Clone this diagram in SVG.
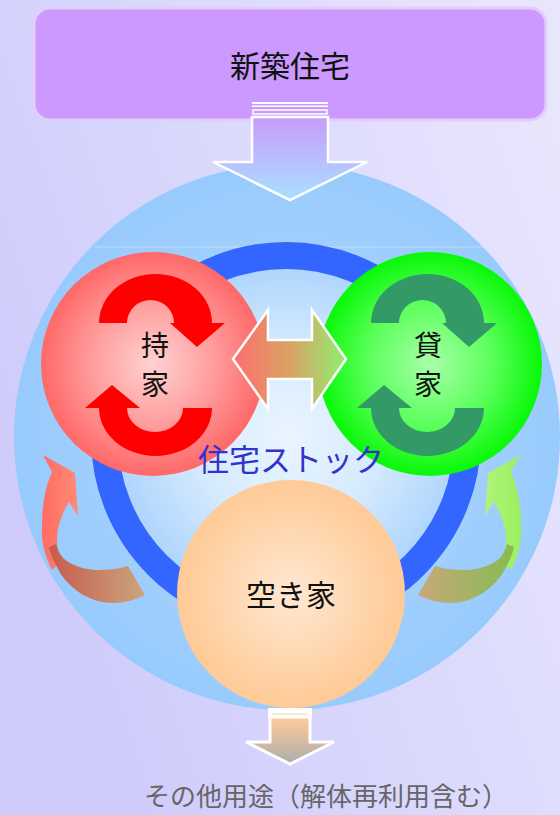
<svg xmlns="http://www.w3.org/2000/svg" width="560" height="815" viewBox="0 0 560 815">
<defs>
<style>
.t{font-family:"Noto Sans CJK JP","Noto Sans",sans-serif;}
.blk{fill:#111;}
.wl{fill:#fff;}
</style>
<linearGradient id="bg" x1="0" y1="0.7" x2="1" y2="0.2">
<stop offset="0" stop-color="#cdcafc"/><stop offset="1" stop-color="#e8e6fd"/>
</linearGradient>
<radialGradient id="bigG" gradientUnits="userSpaceOnUse" cx="288" cy="437" r="273">
<stop offset="0" stop-color="#eaf5ff"/><stop offset="0.32" stop-color="#d6ebfe"/><stop offset="0.6" stop-color="#b2d7fd"/><stop offset="0.74" stop-color="#9fcefd"/><stop offset="1" stop-color="#98cbfd"/>
</radialGradient>
<radialGradient id="redG" cx="0.5" cy="0.5" r="0.5">
<stop offset="0" stop-color="#ffd2d2"/><stop offset="0.55" stop-color="#ff9c9c"/><stop offset="1" stop-color="#ff6868"/>
</radialGradient>
<radialGradient id="grnG" cx="0.5" cy="0.5" r="0.5">
<stop offset="0" stop-color="#a8ffa8"/><stop offset="0.55" stop-color="#5cff5c"/><stop offset="1" stop-color="#08f808"/>
</radialGradient>
<radialGradient id="orgG" cx="0.5" cy="0.5" r="0.5">
<stop offset="0" stop-color="#ffe8d2"/><stop offset="0.6" stop-color="#ffd6ae"/><stop offset="1" stop-color="#ffca96"/>
</radialGradient>
<linearGradient id="dblG" x1="0" y1="0" x2="1" y2="0">
<stop offset="0" stop-color="#ff6e6e"/><stop offset="0.5" stop-color="#d9a264"/><stop offset="1" stop-color="#8ef070"/>
</linearGradient>
<linearGradient id="topArG" x1="0" y1="0" x2="0" y2="1">
<stop offset="0" stop-color="#c89cfc"/><stop offset="1" stop-color="#a8e0ff"/>
</linearGradient>
<linearGradient id="botArG" x1="0" y1="0" x2="0" y2="1">
<stop offset="0" stop-color="#ffcc99"/><stop offset="1" stop-color="#acacac"/>
</linearGradient>
<linearGradient id="lUp" x1="0" y1="0" x2="1" y2="0">
<stop offset="0" stop-color="#ff6c64"/><stop offset="1" stop-color="#ff8a78"/>
</linearGradient>
<linearGradient id="lLow" x1="0" y1="0" x2="1" y2="0">
<stop offset="0" stop-color="#c65c4e"/><stop offset="1" stop-color="#caa67c"/>
</linearGradient>
<linearGradient id="rUp" x1="0" y1="0" x2="1" y2="0">
<stop offset="0" stop-color="#9cee60"/><stop offset="1" stop-color="#b0f47a"/>
</linearGradient>
<linearGradient id="rLow" x1="0" y1="0" x2="1" y2="0">
<stop offset="0" stop-color="#86bc52"/><stop offset="1" stop-color="#c8a87a"/>
</linearGradient>
<path id="cycTop" d="M99 323 A56.5 49 0 0 1 212 323 L225 323 L197 347 L170 323 L174 323 A23.5 23 0 0 0 127 323 Z"/>
<path id="cycBot" d="M212 408 A56.5 48 0 0 1 99 408 L85 408 L112 385 L140 408 L127 408 A28 24 0 0 0 183 408 Z"/>
<path id="sideUp" d="M43 455 L75 473 L78 516 L69 502 C63 512 57 526 57 540 C57 549 59 555 62 560 L52 570 C45 556 41 542 42 527 C42 510 44 490 52 472 Z"/>
<path id="sideLow" d="M56 544 C59 555 64 560 70 563 C80 568 90 570 97 570 C108 570 118 569 128 566 L145 595 C135 600 124 603 113 603 C100 603 90 599 80 593 C70 586 62 578 57 567 C53 560 50 553 49 547 Z"/>
</defs>

<rect id="background" x="0" y="0" width="560" height="815" fill="url(#bg)"/>

<g id="stock-area">
<circle cx="287" cy="437" r="273" fill="url(#bigG)"/>
<line x1="95" y1="247" x2="485" y2="247" stroke="#ffffff" stroke-opacity="0.35" stroke-width="1"/>
</g>

<g id="connectors">
<circle id="cycle-ring" cx="286" cy="437" r="181.5" fill="none" stroke="#3366ff" stroke-width="27"/>
<g id="arrow-left-return">
<use href="#sideUp" fill="url(#lUp)"/>
<use href="#sideLow" fill="url(#lLow)"/>
</g>
<g id="arrow-right-return" transform="translate(563,0) scale(-1,1)">
<use href="#sideUp" fill="url(#rUp)"/>
<use href="#sideLow" fill="url(#rLow)"/>
</g>
</g>

<g id="node-owned">
<circle cx="153" cy="364" r="112" fill="url(#redG)"/>
<use href="#cycTop" fill="#ff0000"/>
<use href="#cycBot" fill="#ff0000"/>
<text class="t blk" x="155" y="356" font-size="28" text-anchor="middle">持</text>
<text class="t blk" x="155" y="395" font-size="28" text-anchor="middle">家</text>
</g>

<g id="node-rental">
<circle cx="430" cy="364" r="112" fill="url(#grnG)"/>
<g transform="translate(272,0)">
<use href="#cycTop" fill="#339966"/>
<use href="#cycBot" fill="#339966"/>
</g>
<text class="t blk" x="428" y="356" font-size="28" text-anchor="middle">貸</text>
<text class="t blk" x="428" y="395" font-size="28" text-anchor="middle">家</text>
</g>

<g id="node-vacant">
<circle cx="291" cy="594" r="114" fill="url(#orgG)"/>
<text class="t blk" x="291" y="606" font-size="30" text-anchor="middle">空き家</text>
</g>

<g id="exchange-arrow">
<path d="M233 359 L268 310 L268 340 L312 340 L312 310 L346 359 L312 409 L312 379 L268 379 L268 409 Z" fill="url(#dblG)" stroke="#ffffff" stroke-width="2.5" stroke-linejoin="miter"/>
</g>

<text id="stock-label" class="t" x="291" y="471" font-size="31" fill="#3333cc" text-anchor="middle">住宅ストック</text>

<g id="node-new">
<rect x="34" y="8" width="512" height="112" rx="16" fill="#cc99ff" stroke="#e2cdfc" stroke-width="3"/>
<text class="t blk" x="290" y="77" font-size="30" text-anchor="middle">新築住宅</text>
</g>

<g id="arrow-in">
<rect class="wl" x="252" y="102" width="76" height="2"/>
<rect class="wl" x="252" y="105.5" width="76" height="1.5"/>
<rect x="253" y="110" width="74" height="4" fill="#c89cfc" stroke="#fff" stroke-width="1.5"/>
<path d="M252 117 L252 162 L213 162 L290 200 L367 162 L328 162 L328 117 Z" fill="url(#topArG)" stroke="#ffffff" stroke-width="2.5"/>
</g>

<g id="arrow-out">
<rect class="wl" x="268" y="708" width="44" height="10"/>
<line x1="272" y1="714" x2="308" y2="714" stroke="#ffd2a8" stroke-width="1"/>
<path d="M270 717 L270 742 L246 742 L290 764 L334 742 L310 742 L310 717 Z" fill="url(#botArG)" stroke="#ffffff" stroke-width="3"/>
</g>

<text id="label-other" class="t" x="326" y="806" font-size="26" fill="#666666" text-anchor="middle">その他用途（解体再利用含む）</text>
</svg>
